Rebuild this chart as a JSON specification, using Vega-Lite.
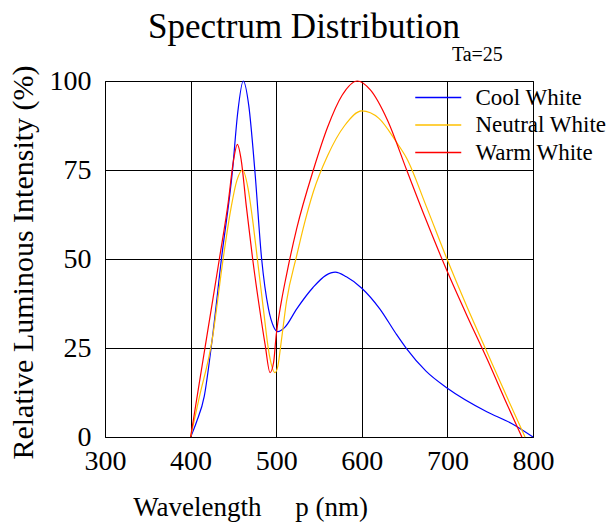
{
  "$schema": "https://vega.github.io/schema/vega-lite/v6.json",
  "width": 428,
  "height": 356,
  "autosize": "none",
  "padding": {"left": 105, "top": 81, "right": 78, "bottom": 90},
  "background": "white",
  "config": {
    "font": "Liberation Serif",
    "view": {"stroke": "black", "strokeWidth": 1}
  },
  "title": {
    "text": "Spectrum Distribution",
    "font": "Liberation Serif",
    "fontSize": 35,
    "fontWeight": "normal",
    "color": "black",
    "anchor": "middle",
    "dx": -15,
    "offset": 0
  },
  "datasets": {
    "curves": [
      {"series": "Cool White", "nm": 400, "value": 0},
      {"series": "Cool White", "nm": 407, "value": 4.3},
      {"series": "Cool White", "nm": 416, "value": 11.5},
      {"series": "Cool White", "nm": 425, "value": 27},
      {"series": "Cool White", "nm": 436, "value": 50},
      {"series": "Cool White", "nm": 449, "value": 75},
      {"series": "Cool White", "nm": 455, "value": 91},
      {"series": "Cool White", "nm": 461.5, "value": 100},
      {"series": "Cool White", "nm": 468, "value": 93},
      {"series": "Cool White", "nm": 475, "value": 75},
      {"series": "Cool White", "nm": 483, "value": 50},
      {"series": "Cool White", "nm": 491, "value": 36},
      {"series": "Cool White", "nm": 497, "value": 31},
      {"series": "Cool White", "nm": 502, "value": 29.6},
      {"series": "Cool White", "nm": 510, "value": 30.8},
      {"series": "Cool White", "nm": 524, "value": 36},
      {"series": "Cool White", "nm": 543, "value": 42},
      {"series": "Cool White", "nm": 558, "value": 45.4},
      {"series": "Cool White", "nm": 569, "value": 46.3},
      {"series": "Cool White", "nm": 582, "value": 45},
      {"series": "Cool White", "nm": 600, "value": 41.8},
      {"series": "Cool White", "nm": 621, "value": 36},
      {"series": "Cool White", "nm": 640, "value": 29},
      {"series": "Cool White", "nm": 652, "value": 24.9},
      {"series": "Cool White", "nm": 675, "value": 18.5},
      {"series": "Cool White", "nm": 700, "value": 13.7},
      {"series": "Cool White", "nm": 746, "value": 7.1},
      {"series": "Cool White", "nm": 775, "value": 3.8},
      {"series": "Cool White", "nm": 800, "value": 0},

      {"series": "Neutral White", "nm": 400, "value": 0},
      {"series": "Neutral White", "nm": 410, "value": 11},
      {"series": "Neutral White", "nm": 425, "value": 27},
      {"series": "Neutral White", "nm": 438, "value": 50},
      {"series": "Neutral White", "nm": 447, "value": 64},
      {"series": "Neutral White", "nm": 454, "value": 72},
      {"series": "Neutral White", "nm": 460.8, "value": 75},
      {"series": "Neutral White", "nm": 467, "value": 70},
      {"series": "Neutral White", "nm": 473, "value": 60},
      {"series": "Neutral White", "nm": 478, "value": 50},
      {"series": "Neutral White", "nm": 485, "value": 36},
      {"series": "Neutral White", "nm": 492, "value": 23},
      {"series": "Neutral White", "nm": 498.6, "value": 18.1},
      {"series": "Neutral White", "nm": 502, "value": 20},
      {"series": "Neutral White", "nm": 506, "value": 27},
      {"series": "Neutral White", "nm": 512, "value": 38},
      {"series": "Neutral White", "nm": 524, "value": 51},
      {"series": "Neutral White", "nm": 533, "value": 60},
      {"series": "Neutral White", "nm": 543.4, "value": 68.9},
      {"series": "Neutral White", "nm": 560, "value": 79},
      {"series": "Neutral White", "nm": 580, "value": 87.5},
      {"series": "Neutral White", "nm": 600, "value": 91.6},
      {"series": "Neutral White", "nm": 620, "value": 89.5},
      {"series": "Neutral White", "nm": 640, "value": 83},
      {"series": "Neutral White", "nm": 652.4, "value": 78.3},
      {"series": "Neutral White", "nm": 675, "value": 65},
      {"series": "Neutral White", "nm": 700, "value": 49.7},
      {"series": "Neutral White", "nm": 723, "value": 36.5},
      {"series": "Neutral White", "nm": 746, "value": 24},
      {"series": "Neutral White", "nm": 770, "value": 11},
      {"series": "Neutral White", "nm": 790.7, "value": 0},

      {"series": "Warm White", "nm": 400, "value": 0},
      {"series": "Warm White", "nm": 410, "value": 14.9},
      {"series": "Warm White", "nm": 420, "value": 29.8},
      {"series": "Warm White", "nm": 433.6, "value": 50},
      {"series": "Warm White", "nm": 444, "value": 66},
      {"series": "Warm White", "nm": 450, "value": 77.5},
      {"series": "Warm White", "nm": 454.6, "value": 82.2},
      {"series": "Warm White", "nm": 459, "value": 78},
      {"series": "Warm White", "nm": 465, "value": 65},
      {"series": "Warm White", "nm": 472.5, "value": 50},
      {"series": "Warm White", "nm": 480, "value": 37},
      {"series": "Warm White", "nm": 487, "value": 26},
      {"series": "Warm White", "nm": 492.8, "value": 18.1},
      {"series": "Warm White", "nm": 497, "value": 21},
      {"series": "Warm White", "nm": 500, "value": 28.6},
      {"series": "Warm White", "nm": 506, "value": 38},
      {"series": "Warm White", "nm": 512, "value": 45.5},
      {"series": "Warm White", "nm": 524, "value": 58.6},
      {"series": "Warm White", "nm": 543.4, "value": 75},
      {"series": "Warm White", "nm": 560, "value": 87},
      {"series": "Warm White", "nm": 577, "value": 96},
      {"series": "Warm White", "nm": 594.8, "value": 100},
      {"series": "Warm White", "nm": 610, "value": 97.5},
      {"series": "Warm White", "nm": 630, "value": 89},
      {"series": "Warm White", "nm": 652.4, "value": 75},
      {"series": "Warm White", "nm": 675, "value": 61},
      {"series": "Warm White", "nm": 700, "value": 46.4},
      {"series": "Warm White", "nm": 723, "value": 34},
      {"series": "Warm White", "nm": 746, "value": 22.1},
      {"series": "Warm White", "nm": 770, "value": 9},
      {"series": "Warm White", "nm": 787, "value": 0}
    ],
    "note": [
      {"nm": 735, "value": 107.3, "label": "Ta=25"}
    ]
  },
  "layer": [
    {
      "data": {"name": "curves"},
      "mark": {"type": "line", "interpolate": "monotone", "strokeWidth": 1.2},
      "encoding": {
        "x": {
          "field": "nm",
          "type": "quantitative",
          "scale": {"domain": [300, 800], "nice": false, "zero": false},
          "axis": {
            "values": [300, 400, 500, 600, 700, 800],
            "grid": true,
            "gridColor": "black",
            "gridOpacity": 1,
            "gridWidth": 1,
            "ticks": false,
            "domain": false,
            "labelFont": "Liberation Serif",
            "labelFontSize": 28,
            "labelColor": "black",
            "labelPadding": 10,
            "labelFlush": false,
            "title": "Wavelength\u00a0\u00a0\u00a0\u00a0\u00a0p (nm)",
            "titleFont": "Liberation Serif",
            "titleFontSize": 27,
            "titleFontWeight": "normal",
            "titleColor": "black",
            "titleX": 145,
            "titleY": 70,
            "titleAlign": "center",
            "titleBaseline": "middle"
          }
        },
        "y": {
          "field": "value",
          "type": "quantitative",
          "scale": {"domain": [0, 100], "nice": false},
          "axis": {
            "values": [0, 25, 50, 75, 100],
            "grid": true,
            "gridColor": "black",
            "gridOpacity": 1,
            "gridWidth": 1,
            "ticks": false,
            "domain": false,
            "labelFont": "Liberation Serif",
            "labelFontSize": 28,
            "labelColor": "black",
            "labelPadding": 14,
            "labelFlush": false,
            "title": "Relative Luminous Intensity (%)",
            "titleFont": "Liberation Serif",
            "titleFontSize": 30,
            "titleFontWeight": "normal",
            "titleColor": "black",
            "titleX": -82,
            "titleY": 181,
            "titleAngle": -90,
            "titleAlign": "center",
            "titleBaseline": "middle"
          }
        },
        "color": {
          "field": "series",
          "type": "nominal",
          "scale": {
            "domain": ["Cool White", "Neutral White", "Warm White"],
            "range": ["#0000FF", "#FFC000", "#FF0000"]
          },
          "legend": {
            "orient": "none",
            "legendX": 321.75,
            "legendY": 5,
            "title": null,
            "symbolType": "M-4,0H4",
            "symbolSize": 132.25,
            "symbolStrokeWidth": 1.5,
            "labelFont": "Liberation Serif",
            "labelFontSize": 23,
            "labelColor": "black",
            "labelOffset": 25.75,
            "labelLimit": 300,
            "rowPadding": 3.5,
            "padding": 0,
            "encode": {
              "symbols": {
                "update": {
                  "stroke": {"scale": "color", "field": "value"},
                  "strokeWidth": {"value": 1.5},
                  "opacity": {"value": 1}
                }
              }
            }
          }
        }
      }
    },
    {
      "data": {"name": "note"},
      "mark": {"type": "text", "font": "Liberation Serif", "fontSize": 20, "color": "black", "align": "center", "baseline": "middle"},
      "encoding": {
        "x": {"field": "nm", "type": "quantitative"},
        "y": {"field": "value", "type": "quantitative"},
        "text": {"field": "label"}
      }
    }
  ]
}
